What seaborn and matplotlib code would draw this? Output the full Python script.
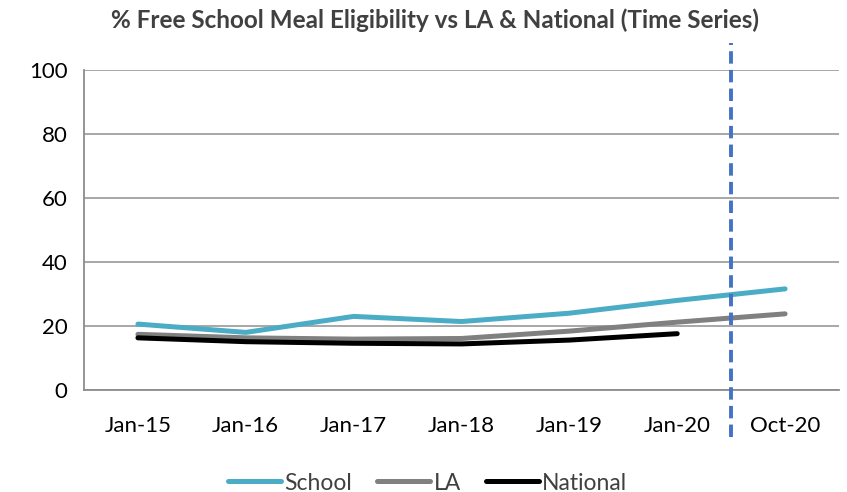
import numpy as np
import pandas as pd
import matplotlib
matplotlib.use("Agg")
import matplotlib.pyplot as plt
import seaborn as sns

categories = ["Jan-15", "Jan-16", "Jan-17", "Jan-18", "Jan-19", "Jan-20", "Oct-20"]
school = [20.6, 18.0, 23.0, 21.4, 24.0, 28.0, 31.6]
la = [17.4, 16.3, 15.9, 16.1, 18.4, 21.2, 23.8]
national = [16.3, 15.1, 14.6, 14.4, 15.6, 17.6, np.nan]
series_names = ["School", "LA", "National"]
colors = ["#4BACC6", "#808080", "#000000"]
yticks = [0, 20, 40, 60, 80, 100]

sns.set_theme(style="white")
plt.rcParams["font.family"] = ["Lato", "DejaVu Sans"]

df = pd.DataFrame({
    "Period": categories * 3,
    "Value": school + la + national,
    "Series": ["School"] * 7 + ["LA"] * 7 + ["National"] * 7,
})
df["x"] = list(range(len(categories))) * 3

fig = plt.figure(figsize=(8.47, 4.92), dpi=100)
ax = fig.add_axes([84 / 847, 1 - 390 / 492, (839 - 84) / 847, 320 / 492])

sns.lineplot(data=df, x="x", y="Value", hue="Series", hue_order=series_names,
             palette=colors, linewidth=3.6, ax=ax, legend=False, sort=False)
for ln in ax.get_lines():
    ln.set_solid_capstyle("round")

ax.set_xlim(-0.5, len(categories) - 0.5)
ax.set_ylim(0, 100)
ax.set_yticks(yticks)
ax.set_yticklabels([str(v) for v in yticks], fontsize=16, color="#000000")
ax.set_xticks(range(len(categories)))
ax.set_xticklabels(categories, fontsize=16, color="#000000")
ax.set_xticks(np.arange(-0.5, len(categories), 1.0), minor=True)
ax.tick_params(axis="x", which="major", length=0, pad=19)
ax.tick_params(axis="x", which="minor", length=7, width=1.2, color="#8C8C8C", direction="out")
ax.tick_params(axis="y", which="major", length=6, width=1.2, color="#8C8C8C", direction="out", pad=6)
ax.set_xlabel("")
ax.set_ylabel("")

ax.yaxis.grid(True, color="#A0A0A0", linewidth=1.3)
ax.set_axisbelow(True)
for s in ["top", "right"]:
    ax.spines[s].set_visible(False)
for s in ["left", "bottom"]:
    ax.spines[s].set_color("#8C8C8C")
    ax.spines[s].set_linewidth(1.3)

ax.axvline(5.5, ymin=-0.147, ymax=1.085, color="#4472C4", linewidth=2.8,
           linestyle=(0, (3.2, 1.6)), clip_on=False, zorder=5)

fig.text(435 / 847, 1 - 20 / 492,
         "% Free School Meal Eligibility vs LA & National (Time Series)",
         fontsize=17.5, fontweight="bold", color="#404040", ha="center", va="center")

handles = [plt.Line2D([0], [0], color=c, linewidth=3.6, solid_capstyle="round") for c in colors]
leg = fig.legend(handles, series_names, loc="lower center", bbox_to_anchor=(0.505, -0.045),
                 ncol=3, frameon=False, fontsize=16.5, handlelength=2.3,
                 handletextpad=0.15, columnspacing=1.1)
for t in leg.get_texts():
    t.set_color("#404040")

fig.savefig("out.png", dpi=100)
